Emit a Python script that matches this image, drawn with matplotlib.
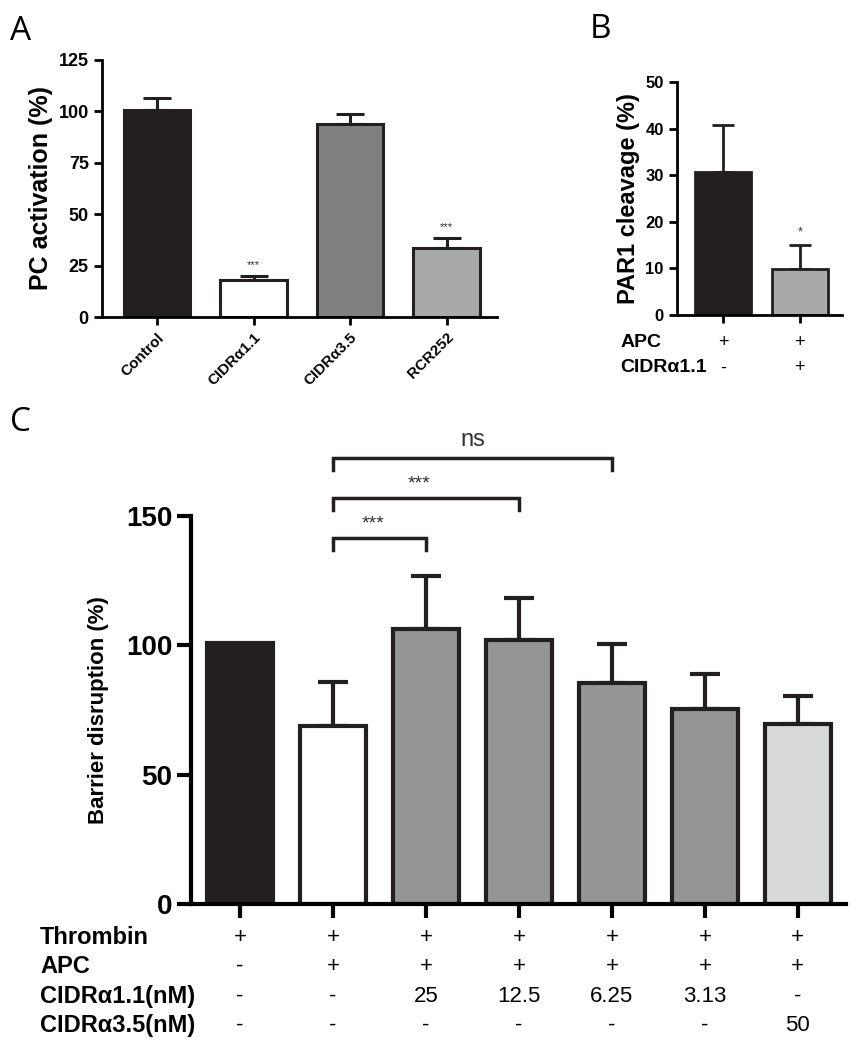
import numpy as np
import matplotlib
matplotlib.use("Agg")
import matplotlib.pyplot as plt

plt.rcParams['font.family'] = ['Liberation Sans', 'DejaVu Sans']

# panel A
a_labels = ['Control', 'CIDRα1.1', 'CIDRα3.5', 'RCR252']
a_vals = [100.5, 18, 94, 33.5]
a_err = [6, 2, 4.5, 5]
a_colors = ['#231f20', '#ffffff', '#7f8082', '#a8a9ab']
a_sig = ['', '***', '', '***']

# panel B
b_vals = [30.7, 9.8]
b_err = [10, 5.2]
b_colors = ['#231f20', '#a8a9ab']
b_rows = ['APC', 'CIDRα1.1']
b_table = [['+', '+'], ['-', '+']]

# panel C
c_vals = [101, 69, 106.5, 102, 85.5, 75.5, 69.5]
c_err = [0, 17, 20.5, 16.5, 15, 13.5, 11]
c_colors = ['#231f20', '#ffffff', '#949596', '#949596', '#949596', '#949596', '#d7d9db']
c_rows = ['Thrombin', 'APC', 'CIDRα1.1(nM)', 'CIDRα3.5(nM)']
c_table = [['+', '+', '+', '+', '+', '+', '+'],
           ['-', '+', '+', '+', '+', '+', '+'],
           ['-', '-', '25', '12.5', '6.25', '3.13', '-'],
           ['-', '-', '-', '-', '-', '-', '50']]
# brackets: (from, to, level, text)
c_brackets = [(1, 2, 141.5, '***'), (1, 3, 157, '***'), (1, 4, 172.5, 'ns')]

fig = plt.figure(figsize=(8.64, 10.5), dpi=100)


def style(ax, lw, tl):
    for s in ['top', 'right']:
        ax.spines[s].set_visible(False)
    for s in ['left', 'bottom']:
        ax.spines[s].set_linewidth(lw)
    ax.tick_params(width=lw, length=tl, direction='out')


# ---------- A ----------
axA = fig.add_axes([0.118, 0.698, 0.457, 0.245])
x = np.arange(len(a_vals))
axA.bar(x, a_vals, width=0.69, color=a_colors, edgecolor='#231f20', linewidth=2.2, zorder=2)
axA.errorbar(x, a_vals, yerr=[np.zeros(len(a_err)), a_err], fmt='none', ecolor='#231f20',
             elinewidth=2.2, capsize=10, capthick=2.2, zorder=1)
for i, s in enumerate(a_sig):
    if s:
        axA.text(x[i], a_vals[i] + a_err[i] + 3, s, ha='center', va='bottom', fontsize=8, color='#333333')
axA.set_xlim(-0.57, 3.52)
axA.set_ylim(0, 125)
axA.set_yticks([0, 25, 50, 75, 100, 125])
axA.set_xticks(x)
axA.set_xticklabels(a_labels, rotation=45, ha='right', rotation_mode='anchor', fontsize=11, fontweight='bold')
for t in axA.get_yticklabels():
    t.set_fontweight('bold')
    t.set_fontsize(13)
axA.set_ylabel('PC activation (%)', fontsize=18, fontweight='bold', labelpad=4)
style(axA, 2, 6)
fig.text(0.012, 0.970, 'A', fontsize=24, family=['Open Sans', 'DejaVu Sans'], va='center')

# ---------- B ----------
axB = fig.add_axes([0.7836, 0.700, 0.191, 0.222])
xb = np.arange(len(b_vals))
axB.bar(xb, b_vals, width=0.73, color=b_colors, edgecolor='#231f20', linewidth=2, zorder=2)
axB.errorbar(xb, b_vals, yerr=[np.zeros(len(b_err)), b_err], fmt='none', ecolor='#231f20',
             elinewidth=2, capsize=8, capthick=2, zorder=1)
axB.text(xb[1], b_vals[1] + b_err[1] + 1.5, '*', ha='center', va='bottom', fontsize=9, color='#333333')
axB.set_xlim(-0.6, 1.55)
axB.set_ylim(0, 50)
axB.set_yticks([0, 10, 20, 30, 40, 50])
axB.set_xticks(xb)
axB.set_xticklabels([])
for t in axB.get_yticklabels():
    t.set_fontweight('bold')
    t.set_fontsize(12)
axB.set_ylabel('PAR1 cleavage (%)', fontsize=17, fontweight='bold', labelpad=4)
style(axB, 2, 6)
for r, (lab, row) in enumerate(zip(b_rows, b_table)):
    yy = -0.12 - 0.107 * r
    axB.text(-1.34, yy, lab, transform=axB.get_xaxis_transform(), ha='left', va='center',
             fontsize=14, fontweight='bold')
    for i, v in enumerate(row):
        axB.text(xb[i], yy, v, transform=axB.get_xaxis_transform(), ha='center', va='center', fontsize=13)
fig.text(0.683, 0.972, 'B', fontsize=24, family=['Open Sans', 'DejaVu Sans'], va='center')

# ---------- C ----------
axC = fig.add_axes([0.221, 0.139, 0.758, 0.3695])
xc = np.arange(len(c_vals))
axC.bar(xc, c_vals, width=0.71, color=c_colors, edgecolor='#231f20', linewidth=3, zorder=2)
errx = [i for i in xc if c_err[i] > 0]
axC.errorbar(errx, [c_vals[i] for i in errx], yerr=[np.zeros(len(errx)), [c_err[i] for i in errx]],
             fmt='none', ecolor='#231f20', elinewidth=3, capsize=11, capthick=3, zorder=1)
for i0, i1, lev, txt in c_brackets:
    axC.plot([xc[i0], xc[i0], xc[i1], xc[i1]], [lev - 4.7, lev, lev, lev - 4.7], color='#231f20',
             lw=2.5, clip_on=False, solid_joinstyle='miter')
    if txt == 'ns':
        axC.text((xc[i0] + xc[i1]) / 2, lev + 2.5, txt, ha='center', va='bottom', fontsize=17, color='#333333',
                 clip_on=False)
    else:
        axC.text((xc[i0] + xc[i1]) / 2 - 0.07, lev + 2, txt, ha='center', va='bottom',
                 fontsize=14, color='#333333', clip_on=False)
axC.set_xlim(-0.527, 6.516)
axC.set_ylim(0, 150)
axC.set_yticks([0, 50, 100, 150])
axC.set_xticks(xc)
axC.set_xticklabels([])
for t in axC.get_yticklabels():
    t.set_fontweight('bold')
    t.set_fontsize(20)
axC.set_ylabel('Barrier disruption (%)', fontsize=16, fontweight='bold', labelpad=12)
style(axC, 3, 10)
for r, (lab, row) in enumerate(zip(c_rows, c_table)):
    yy = -0.085 - 0.076 * r
    axC.text(-2.15, yy, lab, transform=axC.get_xaxis_transform(), ha='left', va='center',
             fontsize=17, fontweight='bold')
    for i, v in enumerate(row):
        axC.text(xc[i], yy, v, transform=axC.get_xaxis_transform(), ha='center', va='center', fontsize=16)
fig.text(0.012, 0.598, 'C', fontsize=24, family=['Open Sans', 'DejaVu Sans'], va='center')

fig.savefig('out.png', dpi=100)
